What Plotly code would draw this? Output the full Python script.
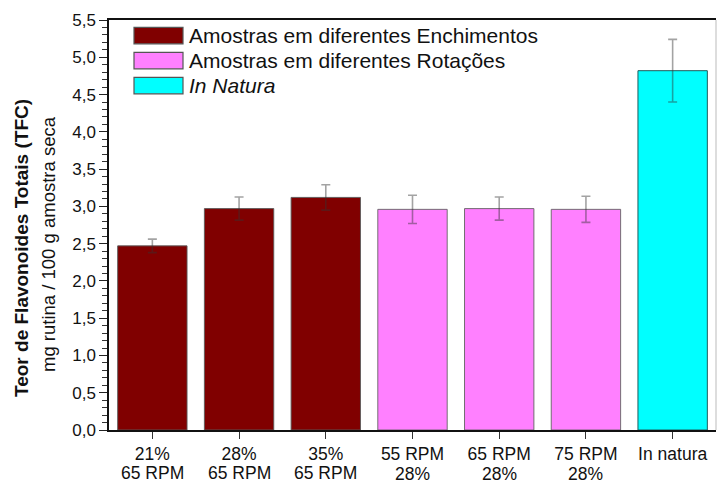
import plotly.graph_objects as go

# ---- data ----
label_line1 = ["21%", "28%", "35%", "55 RPM", "65 RPM", "75 RPM", "In natura"]
label_line2 = ["65 RPM", "65 RPM", "65 RPM", "28%", "28%", "28%", ""]
values = [2.47, 2.97, 3.12, 2.96, 2.97, 2.96, 4.82]
errors = [0.09, 0.155, 0.17, 0.19, 0.155, 0.175, 0.42]
groups = ["enc", "enc", "enc", "rot", "rot", "rot", "nat"]
legend_labels = ["Amostras em diferentes Enchimentos",
                 "Amostras em diferentes Rotações",
                 "<i>In Natura</i>"]
y_ticks = [0, 0.5, 1.0, 1.5, 2.0, 2.5, 3.0, 3.5, 4.0, 4.5, 5.0, 5.5]

categories = [a + (" " + b if b else "") for a, b in zip(label_line1, label_line2)]

# ---- styles ----
colors = {"enc": "#800000", "rot": "#FF80FF", "nat": "#00FFFF"}
outline = {"enc": "rgba(90,90,90,0.9)", "rot": "rgba(100,100,100,0.9)", "nat": "#1f5a5a"}
line2_y = {"enc": 473, "rot": 474, "nat": 473}
FONT = "Liberation Sans, Arial, sans-serif"
TICKSIZE = 17.5

W, H = 717, 484
L, R, T, B = 109, 1, 20, 54
pw, ph = W - L - R, H - T - B

def px(x):
    return (x - L) / pw

def py(y):
    return (H - B - y) / ph

fig = go.Figure()
fig.add_trace(go.Bar(
    x=categories, y=values, width=0.8,
    marker=dict(color=[colors[g] for g in groups],
                line=dict(color=[outline[g] for g in groups], width=1)),
    error_y=dict(type="data", array=errors, visible=True,
                 color="rgba(50,50,50,0.45)", thickness=1.6, width=4.5),
    showlegend=False,
))

shapes = []
annotations = []
# second line of the category labels
for cat, txt, g in zip(categories, label_line2, groups):
    if txt:
        annotations.append(dict(xref="x", yref="paper", x=cat, y=py(line2_y[g]),
                                xanchor="center", yanchor="middle", text=txt,
                                showarrow=False,
                                font=dict(family=FONT, size=TICKSIZE, color="#111111")))
# legend (swatches + real text)
row_tops = [27.3, 52.3, 77.3]
for key, lab, top in zip(["enc", "rot", "nat"], legend_labels, row_tops):
    shapes.append(dict(type="rect", xref="paper", yref="paper",
                       x0=px(134), x1=px(183), y0=py(top + 16.5), y1=py(top),
                       fillcolor=colors[key], line=dict(color="#555555", width=1.2)))
    annotations.append(dict(xref="paper", yref="paper", x=px(187), y=py(top + 8.5),
                            xanchor="left", yanchor="middle", text=lab, showarrow=False,
                            font=dict(family=FONT, size=21, color="#111111")))
# right border
shapes.append(dict(type="line", xref="paper", yref="paper", x0=1, x1=1, y0=0, y1=1,
                   line=dict(color="#bbbbbb", width=1)))

# y axis title (two lines)
annotations.append(dict(xref="paper", yref="paper", x=px(21), y=py(248),
                        xanchor="center", yanchor="middle", textangle=-90, showarrow=False,
                        text="<b>Teor de Flavonoides Totais (TFC)</b>",
                        font=dict(family=FONT, size=19, color="#111111")))
annotations.append(dict(xref="paper", yref="paper", x=px(48), y=py(244),
                        xanchor="center", yanchor="middle", textangle=-90, showarrow=False,
                        text="mg rutina / 100 g amostra seca",
                        font=dict(family=FONT, size=18.5, color="#111111")))

fig.update_layout(
    width=W, height=H,
    margin=dict(l=L, r=R, t=T, b=B, pad=0, autoexpand=False),
    paper_bgcolor="white", plot_bgcolor="white",
    separators=",.",
    font=dict(family=FONT, color="#111111"),
    shapes=shapes, annotations=annotations,
    bargap=0.2,
)
fig.update_xaxes(
    type="category", range=[-0.5, 6.5], automargin=False,
    tickmode="array", tickvals=categories, ticktext=label_line1,
    showline=True, linecolor="#111111", linewidth=1.5, mirror=True,
    ticks="outside", ticklen=7, tickwidth=1.2, tickcolor="#333333",
    tickfont=dict(family=FONT, size=TICKSIZE, color="#111111"),
    showgrid=False, zeroline=False,
)
fig.update_yaxes(
    range=[0, 5.5], tickvals=y_ticks, tickformat=".1f", automargin=False,
    showline=True, linecolor="#111111", linewidth=1.5,
    ticks="outside", ticklen=8, tickwidth=1.2, tickcolor="#222222",
    minor=dict(dtick=0.1, ticks="outside", ticklen=5, tickwidth=1, tickcolor="#333333"),
    tickfont=dict(family=FONT, size=17, color="#111111"),
    showgrid=False, zeroline=False,
)

fig.write_html("out.html")
